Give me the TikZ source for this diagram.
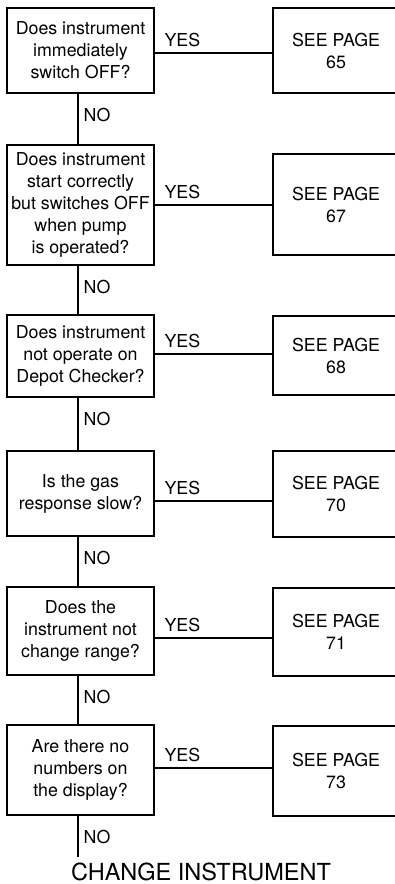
\documentclass[tikz,border=0pt]{standalone}
\usepackage{fontspec}
\setmainfont{TeX Gyre Heros}
\usetikzlibrary{positioning, calc}

\begin{document}
\begin{tikzpicture}[
    x=1pt, y=-1pt,
    ask/.style={draw, line width=1.8pt, minimum width=147pt, inner sep=0pt, font=\fontsize{17.8}{22}\selectfont, align=center},
    page/.style={minimum width=126pt, inner sep=0pt, font=\fontsize{17.8}{22}\selectfont, align=center},
    pagebox/.style={line width=1.8pt},
    link/.style={line width=1.4pt},
    yes/.style={pos=0, anchor=south west, inner sep=0pt, xshift=9pt, yshift=5pt, font=\fontsize{17.8}{22}\selectfont},
    no/.style={pos=0, anchor=north west, inner sep=0pt, xshift=5pt, yshift=-14pt, font=\fontsize{17.8}{22}\selectfont},
]
    \useasboundingbox (0,0) rectangle (395,884);
    \clip (0,0) rectangle (395,884);

    \node[ask, minimum height=85pt] (q1) at (80.5, 50.5) {
        Does instrument\\
        immediately\\
        switch OFF?
    };
    \node[page, minimum height=85pt] (p1) at (336, 50.5) {SEE PAGE\\65};

    \node[ask, minimum height=120pt] (q2) at (80.5, 205) {
        Does instrument\\
        start correctly\\
        but switches OFF\\
        when pump\\
        is operated?
    };
    \node[page, minimum height=101pt] (p2) at (336, 204.5) {SEE PAGE\\67};

    \node[ask, minimum height=82pt] (q3) at (80.5, 356) {
        Does instrument\\
        not operate on\\
        Depot Checker?
    };
    \node[page, minimum height=79pt] (p3) at (336, 355.5) {SEE PAGE\\68};

    \node[ask, minimum height=85pt] (q4) at (80.5, 493.5) {
        Is the gas\\
        response slow?
    };
    \node[page, minimum height=86pt] (p4) at (336, 494) {SEE PAGE\\70};

    \node[ask, minimum height=88pt] (q5) at (80.5, 631) {
        Does the\\
        instrument not\\
        change range?
    };
    \node[page, minimum height=88pt] (p5) at (336, 632) {SEE PAGE\\71};

    \node[ask, minimum height=90pt] (q6) at (80.5, 770) {
        Are there no\\
        numbers on\\
        the display?
    };
    \node[page, minimum height=90pt] (p6) at (336, 771) {SEE PAGE\\73};

    % the page boxes run off the right edge
    \foreach \p in {p1,p2,p3,p4,p5,p6}
        \draw[pagebox] (\p.north west) rectangle ([xshift=30pt]\p.south east);

    \coordinate (stop) at (78, 857);
    \node[inner sep=0pt, font=\fontsize{23.5}{26}\selectfont] (change) at (201, 872) {CHANGE INSTRUMENT};

    \draw[link] ([yshift=-2.5pt]q1.east) -- ([yshift=-2.5pt]q1.east -| p1.west) node[yes] {YES};
    \draw[link] (q2.east) -- (q2.east -| p2.west) node[yes] {YES};
    \draw[link] ([yshift=2pt]q3.east) -- ([yshift=2pt]q3.east -| p3.west) node[yes] {YES};
    \draw[link] ([yshift=-7.5pt]q4.east) -- ([yshift=-7.5pt]q4.east -| p4.west) node[yes] {YES};
    \draw[link] ([yshift=-7pt]q5.east) -- ([yshift=-7pt]q5.east -| p5.west) node[yes] {YES};
    \draw[link] ([yshift=2pt]q6.east) -- ([yshift=2pt]q6.east -| p6.west) node[yes] {YES};

    \draw[link] ([xshift=-2.5pt]q1.south) -- ([xshift=-2.5pt]q2.north) node[no] {NO};
    \draw[link] ([xshift=-2.5pt]q2.south) -- ([xshift=-2.5pt]q3.north) node[no] {NO};
    \draw[link] ([xshift=-2.5pt]q3.south) -- ([xshift=-2.5pt]q4.north) node[no] {NO};
    \draw[link] ([xshift=-2.5pt]q4.south) -- ([xshift=-2.5pt]q5.north) node[no] {NO};
    \draw[link] ([xshift=-2.5pt]q5.south) -- ([xshift=-2.5pt]q6.north) node[no] {NO};
    \draw[link] ([xshift=-2.5pt]q6.south) -- (stop) node[no] {NO};
\end{tikzpicture}
\end{document}
